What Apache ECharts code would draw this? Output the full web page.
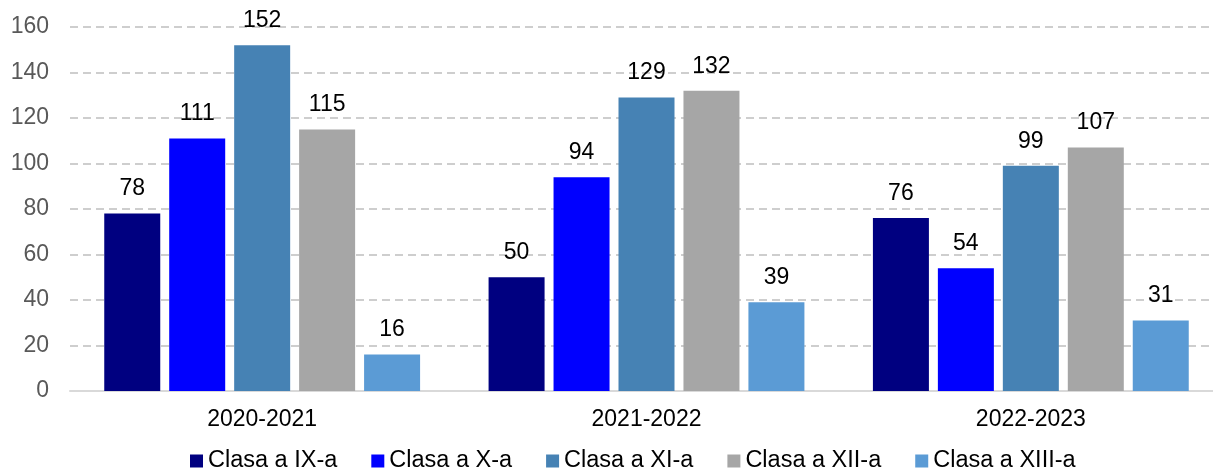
<!DOCTYPE html>
<html>
<head>
<meta charset="utf-8">
<script src="https://cdn.jsdelivr.net/npm/echarts@6/dist/echarts.min.js"></script>
<style>
  html, body { margin: 0; padding: 0; background: #fff; }
  #chart { width: 1213px; height: 472px; }
</style>
</head>
<body>
<div id="chart"></div>
<script>
const years = ['2020-2021', '2021-2022', '2022-2023'];
const seriesNames = ['Clasa a IX-a', 'Clasa a X-a', 'Clasa a XI-a', 'Clasa a XII-a', 'Clasa a XIII-a'];
const colors = ['#000080', '#0000FF', '#4682B4', '#A6A6A6', '#5B9BD5'];
const clasaIX = [78, 50, 76];
const clasaX = [111, 94, 54];
const clasaXI = [152, 129, 99];
const clasaXII = [115, 132, 107];
const clasaXIII = [16, 39, 31];
const yTicks = [0, 20, 40, 60, 80, 100, 120, 140, 160];

const values = [clasaIX, clasaX, clasaXI, clasaXII, clasaXIII];
const font = 'Liberation Sans, Arial, sans-serif';

let myChart = echarts.init(document.getElementById('chart'));
let option = {
  animation: false,
  color: colors,
  grid: { left: 70, top: 27, width: 1153, height: 364, outerBoundsMode: 'none', containLabel: false },
  legend: {
    top: 444,
    left: 185,
    itemWidth: 13,
    itemHeight: 13,
    itemGap: 34,
    icon: 'rect',
    textStyle: { fontFamily: font, fontSize: 23.5, color: '#000' },
    data: seriesNames
  },
  xAxis: {
    type: 'category',
    data: years,
    axisTick: { show: false },
    axisLine: { lineStyle: { color: '#d9d9d9', width: 2 } },
    axisLabel: { fontFamily: font, fontSize: 23, color: '#000', margin: 17 }
  },
  yAxis: {
    type: 'value',
    min: yTicks[0],
    max: yTicks[yTicks.length - 1],
    interval: 20,
    axisLine: { show: false },
    axisTick: { show: false },
    axisLabel: { fontFamily: font, fontSize: 23, color: '#595959', margin: 21 },
    splitLine: { lineStyle: { type: [8, 5], color: '#bfbfbf', width: 1.5 } }
  },
  series: seriesNames.map((name, i) => ({
    name: name,
    type: 'bar',
    barWidth: 56,
    barGap: '16%',
    data: values[i],
    label: {
      show: true,
      position: 'top',
      distance: 13,
      fontFamily: font,
      fontSize: 23,
      color: '#000'
    }
  }))
};
myChart.setOption(option);
</script>
</body>
</html>
